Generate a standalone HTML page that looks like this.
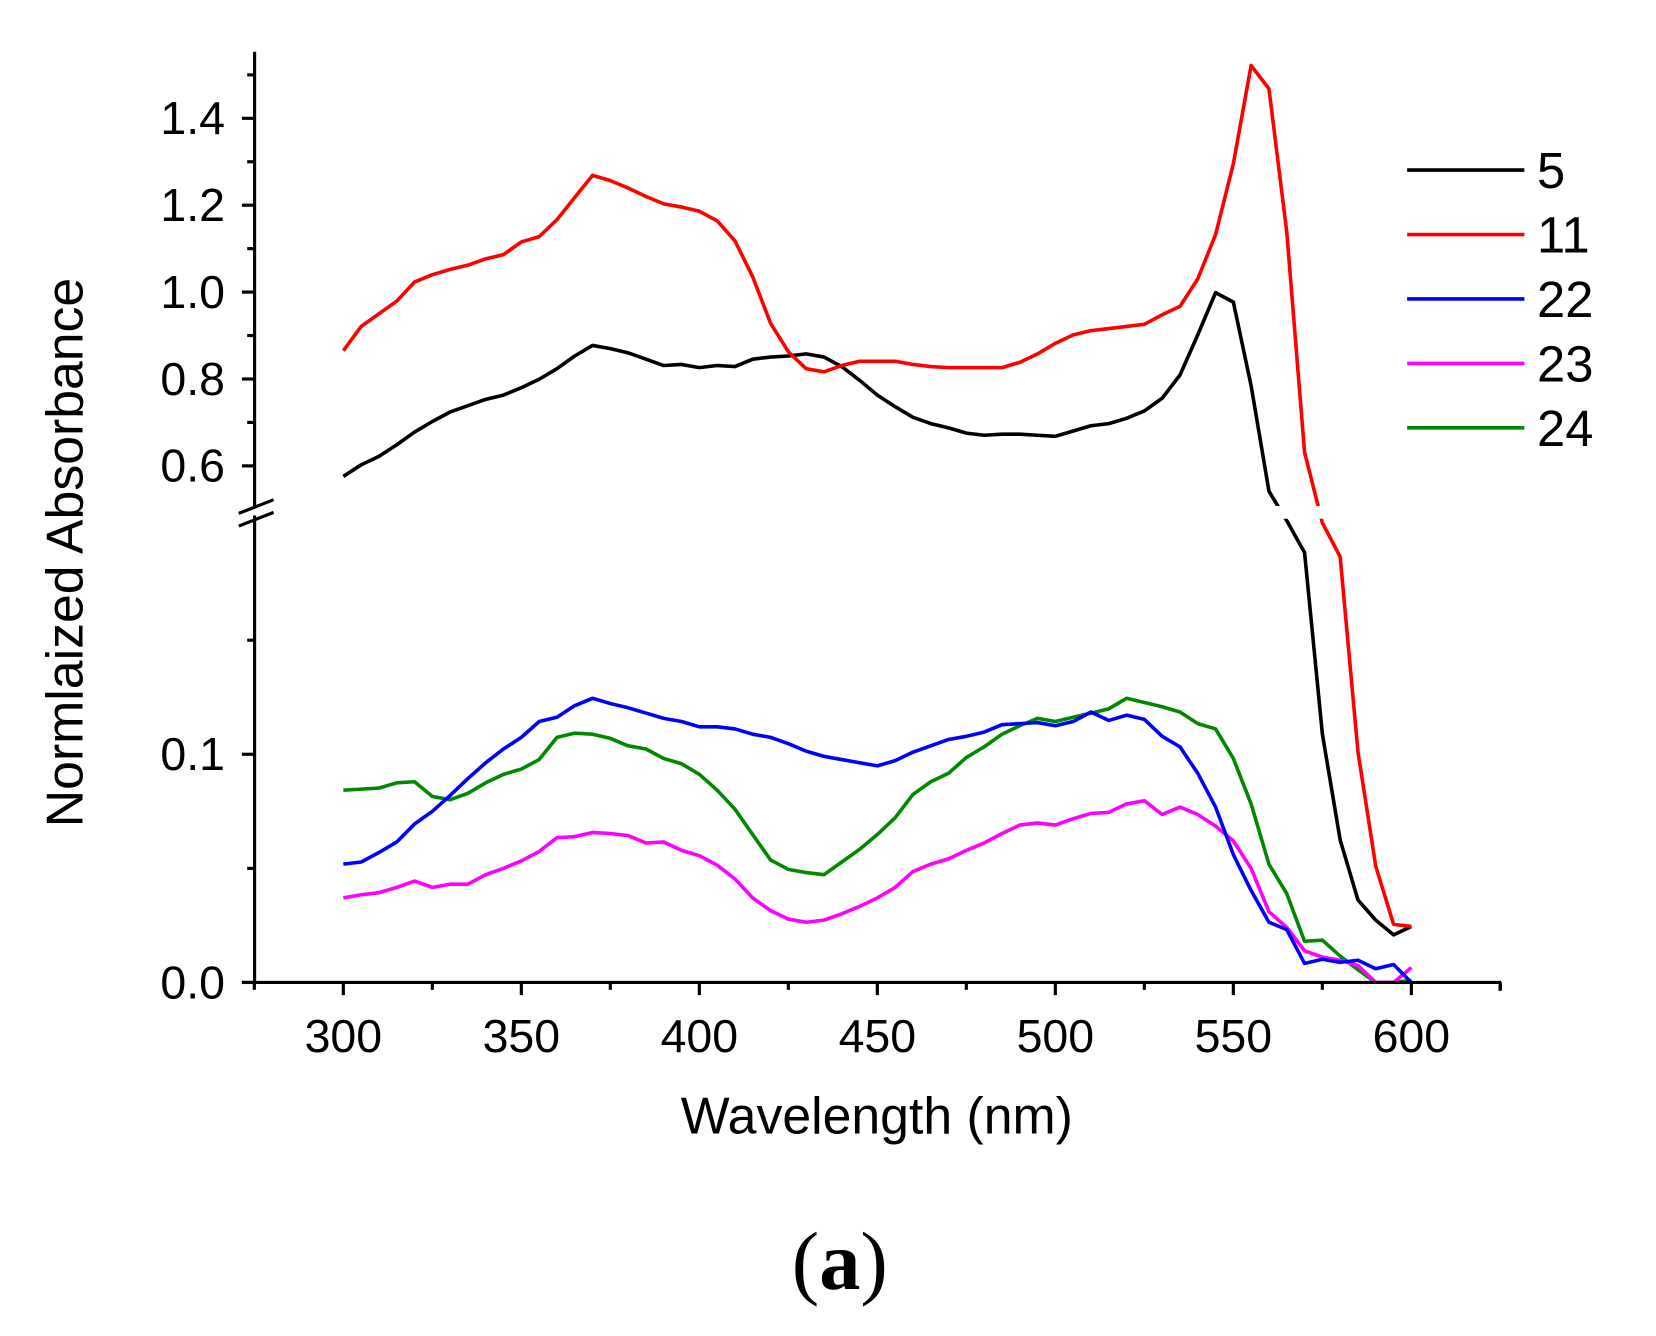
<!DOCTYPE html>
<html><head><meta charset="utf-8"><style>
html,body{margin:0;padding:0;background:#fff;}
svg{display:block;}
text{font-family:"Liberation Sans",Arial,sans-serif;fill:#000;}
</style></head><body>
<svg id="s" width="1656" height="1336" viewBox="0 0 1656 1336" xmlns="http://www.w3.org/2000/svg">
<g id="g" transform="scale(1.0564)">
<defs>
<clipPath id="ct"><rect x="242" y="0" width="1300" height="479"/></clipPath>
<clipPath id="cb"><rect x="242" y="491" width="1300" height="440"/></clipPath>
</defs>
</g>
</svg>
<script>
var NS="http://www.w3.org/2000/svg",g=document.getElementById("g");
function el(t,a,txt){var e=document.createElementNS(NS,t);for(var k in a)e.setAttribute(k,a[k]);if(txt!=null)e.textContent=txt;g.appendChild(e);return e;}
function X(l){return 325+(l-300)*3.37;}
var data={
"#000":[451,440,432,421,409,399,390,384,378,374,367,359,349,337,327,330,334,340,346,345,348,346,347,340,338,337,335,338,347,360,374,385,395,401,405,410,412,411,411,412,413,408,403,401,396,389,377,355,317,277,286,365,465,493,523,695,795,852,871,885,877],
"#f00":[332,309,297,285,267,260,255,251,245,241,229,224,208,187,166,171,178,186,193,196,200,209,228,262,306,333,349,352,346,342,342,342,345,347,348,348,348,348,343,335,325,317,313,311,309,307,298,290,264,222,155,62,84,220,428,495,527,712,820,875,877],
"#00f":[818,816,807,797,780,768,753,737,722,709,698,683,679,668,661,666,670,675,680,683,688,688,690,695,698,704,711,716,719,722,725,720,712,706,700,697,693,686,685,684,687,683,674,682,677,681,697,707,732,764,809,843,873,880,912,908,911,909,917,913,930],
"#f0f":[850,847,845,840,834,840,837,837,828,822,815,806,793,792,788,789,791,798,797,805,810,819,832,850,862,870,873,871,865,858,850,840,825,818,813,805,798,789,781,779,781,775,770,769,761,758,771,764,771,782,796,822,863,878,900,906,909,914,930,930,916],
"#080":[748,747,746,741,740,754,757,751,741,733,728,719,698,694,695,699,706,709,718,723,733,748,766,790,814,823,826,828,816,804,790,774,752,740,732,717,707,695,687,680,683,679,675,671,661,665,669,674,685,690,718,761,818,846,891,890,905,918,930,930,928]};
var order=["#080","#f0f","#00f","#000","#f00"];
order.forEach(function(c){var p=data[c].map(function(y,i){return X(300+5*i).toFixed(1)+","+y;}).join(" ");
 ["ct","cb"].forEach(function(cp){el("polyline",{points:p,fill:"none",stroke:c,"stroke-width":3.4,"stroke-linejoin":"round","clip-path":"url(#"+cp+")"});});});
var A={stroke:"#000","stroke-width":3,fill:"none"};
el("line",Object.assign({x1:241,y1:49,x2:241,y2:481},A));
el("line",Object.assign({x1:241,y1:488,x2:241,y2:931.5},A));
el("line",Object.assign({x1:229,y1:930,x2:1421,y2:930},A));
el("line",Object.assign({x1:1420,y1:930,x2:1420,y2:938},A));
el("line",Object.assign({x1:226,y1:486,x2:259,y2:473},A));
el("line",Object.assign({x1:226,y1:498,x2:259,y2:485},A));
function TY(v){return 112+(1.4-v)*411.25;}
var FS=44;
[0.6,0.8,1.0,1.2,1.4].forEach(function(v){var y=TY(v);el("line",Object.assign({x1:229,y1:y,x2:241,y2:y},A));el("text",{x:213,y:y+15,"font-size":FS,"text-anchor":"end"},v.toFixed(1));});
[0.7,0.9,1.1,1.3,1.5].forEach(function(v){var y=TY(v);el("line",Object.assign({x1:234,y1:y,x2:241,y2:y},A));});
function BY(v){return 930-v*2160;}
[0,0.1].forEach(function(v){var y=BY(v);el("line",Object.assign({x1:229,y1:y,x2:241,y2:y},A));el("text",{x:213,y:y+15,"font-size":FS,"text-anchor":"end"},v.toFixed(1));});
[0.05,0.15].forEach(function(v){var y=BY(v);el("line",Object.assign({x1:234,y1:y,x2:241,y2:y},A));});
for(var l=300;l<=600;l+=50){el("line",Object.assign({x1:X(l),y1:930,x2:X(l),y2:942},A));el("text",{x:X(l),y:996,"font-size":FS,"text-anchor":"middle"},l);}
for(var l=275;l<=625;l+=50){el("line",Object.assign({x1:X(l),y1:930,x2:X(l),y2:937},A));}
el("text",{x:830,y:1073,"font-size":49,"text-anchor":"middle"},"Wavelength (nm)");
el("text",{x:0,y:0,"font-size":49,"text-anchor":"middle",transform:"translate(78,523) rotate(-90)"},"Normlaized Absorbance");
var lg=[["#000","5"],["#f00","11"],["#00f","22"],["#f0f","23"],["#080","24"]];
lg.forEach(function(d,i){var y=161+i*61;el("line",{x1:1332,y1:y,x2:1443,y2:y,stroke:d[0],"stroke-width":3.4});el("text",{x:1455,y:y+17,"font-size":48},d[1]);});
var t=el("text",{x:795,y:1220,"font-size":78,"text-anchor":"middle",style:"font-family:'Liberation Serif',serif"},"");
var s1=document.createElementNS(NS,"tspan");s1.textContent="(";t.appendChild(s1);
var s2=document.createElementNS(NS,"tspan");s2.setAttribute("font-weight","bold");s2.textContent="a";t.appendChild(s2);
var s3=document.createElementNS(NS,"tspan");s3.textContent=")";t.appendChild(s3);
</script>
</body></html>
